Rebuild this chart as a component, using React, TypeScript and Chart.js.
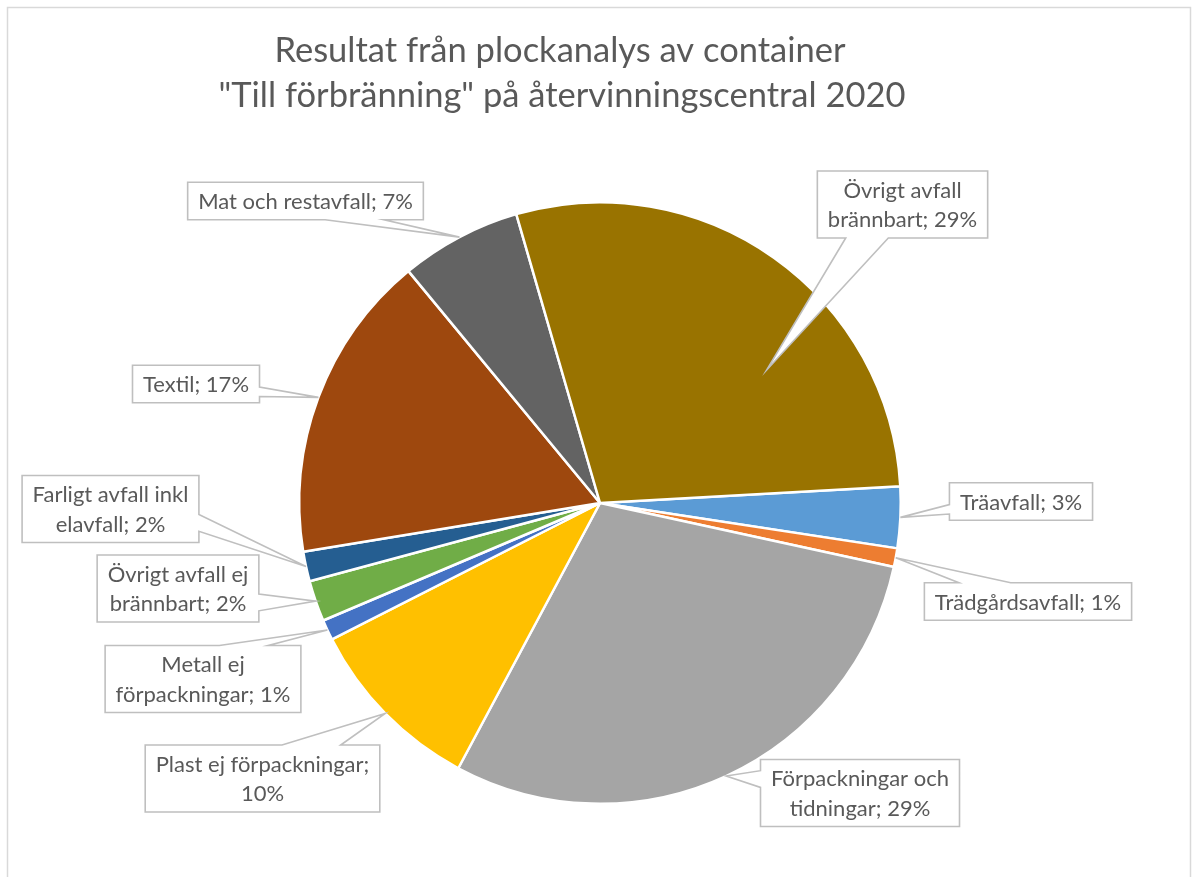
import React, { useEffect, useRef } from "react";
import { Chart, registerables } from "chart.js";

Chart.register(...registerables);

// ---- data ----
const TITLE_LINES = [
  "Resultat från plockanalys av container",
  "\"Till förbränning\" på återvinningscentral 2020",
];
const CATEGORIES = [
  "Träavfall",
  "Trädgårdsavfall",
  "Förpackningar och tidningar",
  "Plast ej förpackningar",
  "Metall ej förpackningar",
  "Övrigt avfall ej brännbart",
  "Farligt avfall inkl elavfall",
  "Textil",
  "Mat och restavfall",
  "Övrigt avfall brännbart",
];
const VALUES = [3.3, 1.0, 29.4, 9.7, 1.1, 2.2, 1.6, 16.6, 6.5, 28.6];
const PERCENT_LABELS = ["3%", "1%", "29%", "10%", "1%", "2%", "2%", "17%", "7%", "29%"];
const COLORS = [
  "#5B9BD5",
  "#ED7D31",
  "#A5A5A5",
  "#FFC000",
  "#4472C4",
  "#70AD47",
  "#255E91",
  "#9E480E",
  "#636363",
  "#997300",
];

// ---- layout (callout boxes: centre offset from pie centre, words on first line, tip placement) ----
const BOX_DX = [421, 428, 260, -337.5, -397, -422, -489.5, -404, -294.5, 302.5];
const BOX_DY = [-1.5, 98.5, 290, 275.5, 176, 85.5, 6, -119, -302, -298.5];
const FIRST_LINE_WORDS = [99, 99, 2, 3, 2, 3, 3, 99, 99, 2];
const TIP_FRAC = [0.5, 0.5, 0.5, 0.5, 0.5, 0.5, 0.5, 0.5, 0.5, 0.656];
const TIP_R = [1, 1, 1, 1, 1, 1, 1, 1, 1, 0.71];

const TEXT_COLOR = "#595959";
const LABEL_FONT = "22px Lato";
const TITLE_FONT = "34.5px Lato";

const calloutPlugin = {
  id: "calloutPlugin",
  beforeDraw(chart: any) {
    const ctx = chart.ctx;
    ctx.save();
    ctx.fillStyle = "#ffffff";
    ctx.fillRect(0, 0, chart.width, chart.height);
    ctx.strokeStyle = "#D9D9D9";
    ctx.lineWidth = 1.5;
    ctx.strokeRect(7.5, 7.5, 1183, 900);
    // title
    ctx.fillStyle = TEXT_COLOR;
    ctx.font = TITLE_FONT;
    ctx.textAlign = "center";
    ctx.textBaseline = "alphabetic";
    ctx.fillText(TITLE_LINES[0], 560, 62);
    ctx.fillText(TITLE_LINES[1], 562, 107);
    ctx.restore();
  },
  afterDatasetsDraw(chart: any) {
    const ctx = chart.ctx;
    const meta = chart.getDatasetMeta(0);
    ctx.save();
    ctx.font = LABEL_FONT;
    meta.data.forEach((arc: any, i: number) => {
      const p = arc.getProps(["x", "y", "startAngle", "endAngle", "outerRadius"], true);
      const ang = p.startAngle + (p.endAngle - p.startAngle) * TIP_FRAC[i];
      const tr = p.outerRadius * TIP_R[i];
      const tx = p.x + Math.cos(ang) * tr;
      const ty = p.y + Math.sin(ang) * tr;

      const words = (CATEGORIES[i] + "; " + PERCENT_LABELS[i]).split(" ");
      const n = FIRST_LINE_WORDS[i];
      const lines = [words.slice(0, n).join(" ")];
      if (words.length > n) lines.push(words.slice(n).join(" "));
      const lineH = 29.5;
      const padX = 10.5;
      const padY = 4;
      const tw = Math.max(...lines.map((l) => ctx.measureText(l).width));
      const w = tw + padX * 2;
      const h = lines.length * lineH + padY * 2;
      const cx = p.x + BOX_DX[i];
      const cy = p.y + BOX_DY[i];
      const x0 = cx - w / 2;
      const x1 = cx + w / 2;
      const y0 = cy - h / 2;
      const y1 = cy + h / 2;

      const dx = tx - cx;
      const dy = ty - cy;
      const horiz = Math.abs(dx) * h > Math.abs(dy) * w;
      ctx.beginPath();
      ctx.moveTo(x0, y0);
      if (!horiz && dy < 0) {
        const b1 = dx > 0 ? x0 + (w * 7) / 12 : x0 + (w * 2) / 12;
        const b2 = dx > 0 ? x0 + (w * 10) / 12 : x0 + (w * 5) / 12;
        ctx.lineTo(b1, y0);
        ctx.lineTo(tx, ty);
        ctx.lineTo(b2, y0);
      }
      ctx.lineTo(x1, y0);
      if (horiz && dx > 0) {
        const b1 = dy > 0 ? y0 + (h * 7) / 12 : y0 + (h * 2) / 12;
        const b2 = dy > 0 ? y0 + (h * 10) / 12 : y0 + (h * 5) / 12;
        ctx.lineTo(x1, b1);
        ctx.lineTo(tx, ty);
        ctx.lineTo(x1, b2);
      }
      ctx.lineTo(x1, y1);
      if (!horiz && dy >= 0) {
        const b1 = dx > 0 ? x0 + (w * 7) / 12 : x0 + (w * 2) / 12;
        const b2 = dx > 0 ? x0 + (w * 10) / 12 : x0 + (w * 5) / 12;
        ctx.lineTo(b2, y1);
        ctx.lineTo(tx, ty);
        ctx.lineTo(b1, y1);
      }
      ctx.lineTo(x0, y1);
      if (horiz && dx <= 0) {
        const b1 = dy > 0 ? y0 + (h * 7) / 12 : y0 + (h * 2) / 12;
        const b2 = dy > 0 ? y0 + (h * 10) / 12 : y0 + (h * 5) / 12;
        ctx.lineTo(x0, b2);
        ctx.lineTo(tx, ty);
        ctx.lineTo(x0, b1);
      }
      ctx.closePath();
      ctx.fillStyle = "#ffffff";
      ctx.fill();
      ctx.strokeStyle = "#BFBFBF";
      ctx.lineWidth = 1.6;
      ctx.lineJoin = "miter";
      ctx.stroke();

      ctx.fillStyle = TEXT_COLOR;
      ctx.textAlign = "center";
      ctx.textBaseline = "middle";
      lines.forEach((l, k) => {
        ctx.fillText(l, cx, y0 + padY + lineH * (k + 0.5) + 1);
      });
    });
    ctx.restore();
  },
};

export default function App() {
  const ref = useRef<HTMLCanvasElement | null>(null);
  useEffect(() => {
    if (!ref.current) return;
    const chart = new Chart(ref.current, {
      type: "pie",
      data: {
        labels: CATEGORIES,
        datasets: [
          {
            data: VALUES,
            backgroundColor: COLORS,
            borderColor: "#ffffff",
            borderWidth: 2.5,
          },
        ],
      },
      options: {
        responsive: false,
        animation: false,
        rotation: 86.8,
        events: [],
        layout: { padding: { left: 298, right: 295, top: 201, bottom: 72 } },
        plugins: {
          legend: { display: false },
          tooltip: { enabled: false },
          title: { display: false },
        },
      },
      plugins: [calloutPlugin],
    });
    return () => chart.destroy();
  }, []);
  return (
    <div style={{ position: "absolute", left: 0, top: 0, width: 1197, height: 877 }}>
      <canvas ref={ref} width={1197} height={877} />
    </div>
  );
}
